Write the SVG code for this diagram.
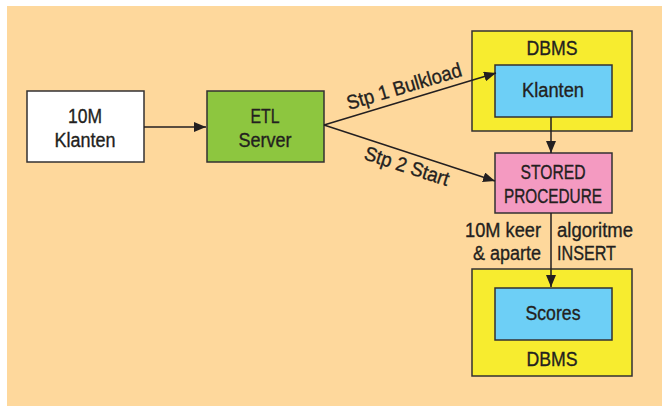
<svg xmlns="http://www.w3.org/2000/svg" width="662" height="406" viewBox="0 0 662 406">
<defs>
<style>
.box{stroke:#333132;stroke-width:1.5}
.t{font-family:"Liberation Sans",Arial,sans-serif;font-size:20px;fill:#231F20;stroke:#231F20;stroke-width:0.35;text-anchor:middle}
.tl{font-family:"Liberation Sans",Arial,sans-serif;font-size:20px;fill:#231F20;stroke:#231F20;stroke-width:0.35}
.c{stroke:#231F20;stroke-width:1.5;fill:none}
</style>
<marker id="ah" viewBox="0 0 12 10" refX="12" refY="5" markerWidth="12" markerHeight="10" markerUnits="userSpaceOnUse" orient="auto">
<path d="M0,0 L12,5 L0,10 Z" fill="#231F20"/>
</marker>
</defs>
<rect x="7" y="6" width="655" height="400" fill="#FED89C"/>
<g id="src">
<rect class="box" x="27" y="91" width="117" height="71" fill="#FFFFFF"/>
<text class="t" x="85" y="123" textLength="34" lengthAdjust="spacingAndGlyphs">10M</text>
<text class="t" x="85" y="147" textLength="61" lengthAdjust="spacingAndGlyphs">Klanten</text>
</g>
<g id="etl">
<rect class="box" x="207" y="91" width="117" height="71" fill="#8DC63F"/>
<text class="t" x="265" y="123" textLength="29" lengthAdjust="spacingAndGlyphs">ETL</text>
<text class="t" x="265" y="147" textLength="53" lengthAdjust="spacingAndGlyphs">Server</text>
</g>
<g id="dbms1">
<rect class="box" x="472" y="31" width="160" height="100" fill="#F7EC2F"/>
<text class="t" x="552" y="55" textLength="51" lengthAdjust="spacingAndGlyphs">DBMS</text>
</g>
<g id="klanten">
<rect class="box" x="495" y="65" width="117" height="52" fill="#6DCFF6"/>
<text class="t" x="553" y="97" textLength="62" lengthAdjust="spacingAndGlyphs">Klanten</text>
</g>
<g id="sp">
<rect class="box" x="495" y="153" width="117" height="60" fill="#F49AC1"/>
<text class="t" x="553" y="179" textLength="65" lengthAdjust="spacingAndGlyphs">STORED</text>
<text class="t" x="553" y="203" textLength="98" lengthAdjust="spacingAndGlyphs">PROCEDURE</text>
</g>
<g id="dbms2">
<rect class="box" x="472" y="269" width="160" height="107" fill="#F7EC2F"/>
<text class="t" x="552" y="366" textLength="51" lengthAdjust="spacingAndGlyphs">DBMS</text>
</g>
<g id="scores">
<rect class="box" x="495" y="288" width="117" height="52" fill="#6DCFF6"/>
<text class="t" x="553" y="320" textLength="55" lengthAdjust="spacingAndGlyphs">Scores</text>
</g>
<g id="connectors">
<line class="c" x1="144" y1="127" x2="206" y2="127" marker-end="url(#ah)"/>
<line class="c" x1="324" y1="125" x2="496" y2="73" marker-end="url(#ah)"/>
<line class="c" x1="324" y1="125" x2="495" y2="181" marker-end="url(#ah)"/>
<line class="c" x1="551" y1="117" x2="551" y2="153" marker-end="url(#ah)"/>
<line class="c" x1="551" y1="213" x2="551" y2="287" marker-end="url(#ah)"/>
<text class="tl" transform="translate(349,110) rotate(-16.7)" textLength="119" lengthAdjust="spacingAndGlyphs">Stp 1 Bulkload</text>
<text class="tl" transform="translate(363,159) rotate(18)" textLength="88" lengthAdjust="spacingAndGlyphs">Stp 2 Start</text>
<text class="tl" x="465" y="237" textLength="76" lengthAdjust="spacingAndGlyphs">10M keer</text>
<text class="tl" x="473" y="260" textLength="68" lengthAdjust="spacingAndGlyphs">&amp; aparte</text>
<text class="tl" x="557" y="237" textLength="76" lengthAdjust="spacingAndGlyphs">algoritme</text>
<text class="tl" x="557" y="260" textLength="59" lengthAdjust="spacingAndGlyphs">INSERT</text>
</g>
</svg>
